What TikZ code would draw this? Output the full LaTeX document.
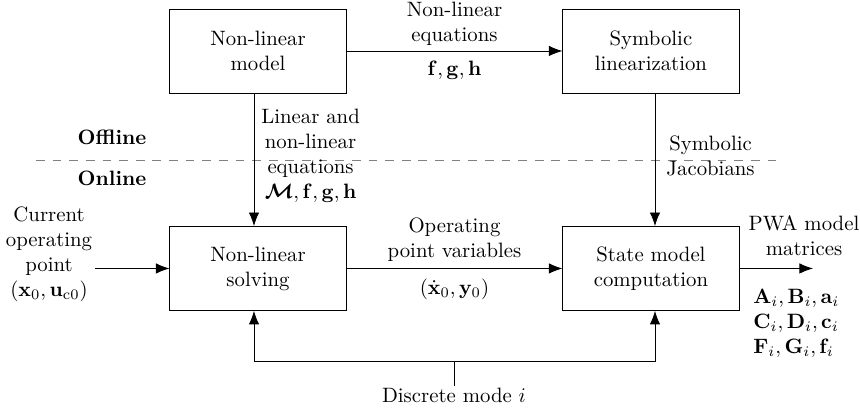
\documentclass[tikz,border=0pt]{standalone}
\usepackage{amsmath}
\usepackage{bm}
\usepackage{tikz}
\usetikzlibrary{positioning,calc,arrows.meta}

\begin{document}
\begin{tikzpicture}[
  >={Latex[length=6.5pt,width=5pt]},
  block/.style={
    draw, rectangle,
    minimum width=2.98cm, minimum height=1.42cm,
    align=center,
  },
  flow/.style={->},
  lbl/.style={align=center},
  sym/.style={below,yshift=-1.5pt},
  splitline/.style={draw=gray, dash pattern=on 4.2pt off 3.8pt},
]
\useasboundingbox (0,0) rectangle (14.543,-6.967);

% --- blocks ---------------------------------------------------------
\node[block] (NLM) at (4.363,-0.862)  {Non-linear\\model};
\node[block] (SL)  at (11.008,-0.862) {Symbolic\\linearization};
\node[block] (NLS) at (4.363,-4.540)  {Non-linear\\solving};
\node[block] (SMC) at (11.008,-4.540) {State model\\computation};

% --- offline / online split -----------------------------------------
\draw[splitline] (0.609,-2.706) -- (13.19,-2.706);
\node[font=\bfseries] (off) at (1.894,-2.32) {Offline};
\node[font=\bfseries] (on)  at (1.894,-3.01) {Online};

% --- offline flows --------------------------------------------------
\draw[flow] (NLM.east) --
  node[above,lbl,inner sep=2.5pt] {Non-linear\\equations}
  node[sym] {$\mathbf{f},\mathbf{g},\mathbf{h}$}
  (SL.west);

\draw[flow] ([xshift=-0.068cm]NLM.south) --
  node[right,lbl,yshift=2pt] {Linear and\\non-linear\\equations\\$\bm{\mathcal{M}},\mathbf{f},\mathbf{g},\mathbf{h}$}
  ([xshift=-0.068cm]NLS.north);

\draw[flow] ([xshift=0.068cm]SL.south) --
  node[right,lbl,xshift=2pt,yshift=2pt] {Symbolic\\Jacobians}
  ([xshift=0.068cm]SMC.north);

% --- online flows ---------------------------------------------------
\coordinate (in)  at (1.606,-4.540);
\coordinate (out) at (13.748,-4.540);

\node[lbl] (cur) at (0.829,-4.30)
  {Current\\operating\\point\\$(\mathbf{x}_0,\mathbf{u}_{\mathrm{c}0})$};
\draw[flow] (in) -- (NLS.west);

\draw[flow] (NLS.east) --
  node[above,lbl] {Operating\\point variables}
  node[sym] {$(\dot{\mathbf{x}}_0,\mathbf{y}_0)$}
  (SMC.west);

\draw[flow] (SMC.east) -- (out);
\node[lbl] (pwa) at (13.596,-3.99) {PWA model\\matrices};
\node[anchor=west,align=left] (mats) at (12.615,-5.462) {%
  $\mathbf{A}_i,\mathbf{B}_i,\mathbf{a}_i$\\
  $\mathbf{C}_i,\mathbf{D}_i,\mathbf{c}_i$\\
  $\mathbf{F}_i,\mathbf{G}_i,\mathbf{f}_i$};

% --- discrete mode --------------------------------------------------
\coordinate (join) at (7.677,-6.105);
\node[anchor=north,inner sep=1pt] (mode) at (7.677,-6.527) {Discrete mode $i$};
\draw (mode.north) -- (join);
\draw[flow] (join) -| ([xshift=-0.068cm]NLS.south);
\draw[flow] (join) -| ([xshift=0.068cm]SMC.south);

\end{tikzpicture}
\end{document}
